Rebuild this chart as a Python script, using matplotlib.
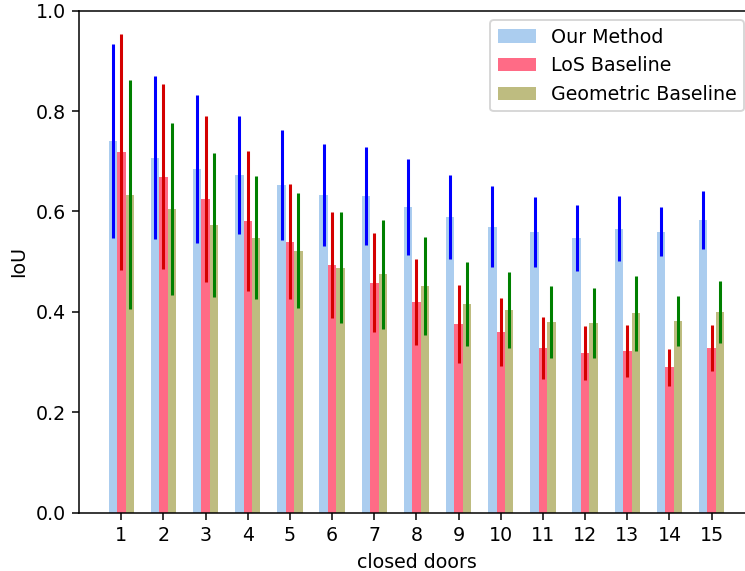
import matplotlib
matplotlib.use('Agg')
import matplotlib.pyplot as plt
import numpy as np

# closed doors 1..15
doors = list(range(1, 16))

our_mean = [0.740, 0.707, 0.685, 0.673, 0.653, 0.633, 0.631, 0.609, 0.589, 0.570, 0.559, 0.547, 0.566, 0.560, 0.583]
our_std = [0.193, 0.162, 0.148, 0.117, 0.109, 0.101, 0.098, 0.095, 0.084, 0.080, 0.069, 0.065, 0.065, 0.048, 0.058]

los_mean = [0.718, 0.669, 0.625, 0.581, 0.540, 0.493, 0.458, 0.420, 0.376, 0.360, 0.328, 0.318, 0.322, 0.290, 0.328]
los_std = [0.235, 0.184, 0.165, 0.139, 0.114, 0.106, 0.099, 0.085, 0.077, 0.067, 0.061, 0.053, 0.052, 0.037, 0.045]

geo_mean = [0.633, 0.605, 0.573, 0.548, 0.522, 0.488, 0.475, 0.452, 0.416, 0.404, 0.380, 0.378, 0.397, 0.382, 0.400]
geo_std = [0.228, 0.172, 0.144, 0.123, 0.114, 0.110, 0.109, 0.098, 0.084, 0.075, 0.072, 0.069, 0.074, 0.049, 0.062]

dpi = 137
fig = plt.figure(figsize=(745 / dpi, 571 / dpi), dpi=dpi)
ax = fig.add_axes([0.1062, 0.1021, 0.9056, 0.8792])

x = np.array(doors)
width = 0.2

ax.bar(x - width, our_mean, width, color='#abcdef', label='Our Method')
ax.bar(x, los_mean, width, color='#ff6b86', label='LoS Baseline')
ax.bar(x + width, geo_mean, width, color='#bebc80', label='Geometric Baseline')

ax.errorbar(x - width, our_mean, yerr=our_std, fmt='none', ecolor='#0000ff', elinewidth=1.6)
ax.errorbar(x, los_mean, yerr=los_std, fmt='none', ecolor='#d40000', elinewidth=1.6)
ax.errorbar(x + width, geo_mean, yerr=geo_std, fmt='none', ecolor='#008000', elinewidth=1.6)

ax.set_xlim(0, 16)
ax.set_ylim(0, 1.0)
ax.set_xticks(x)
ax.set_xticklabels([str(d) for d in doors])
ax.set_xlabel('closed doors')
ax.set_ylabel('IoU')
ax.legend(loc='upper right')

fig.savefig('out.png', dpi=dpi)
